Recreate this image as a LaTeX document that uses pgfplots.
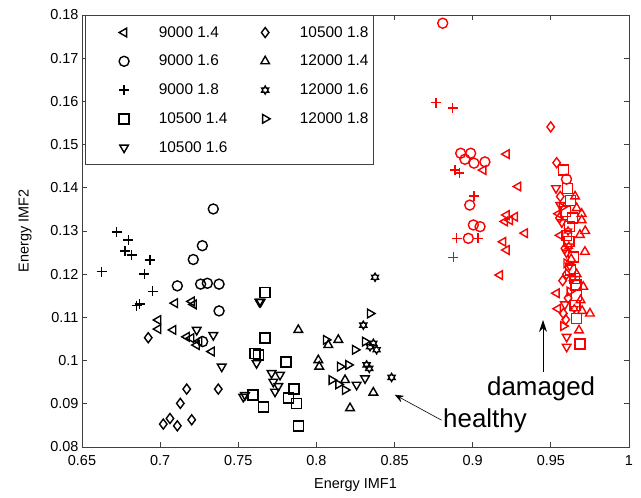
\documentclass[border=0pt]{standalone}
\usepackage{fontspec}
\setmainfont{Liberation Sans}
\usepackage{pgfplots}
\pgfplotsset{compat=1.18}
\usetikzlibrary{arrows.meta}
\pgfdeclareplotmark{hexagram}{%
  \pgfpathmoveto{\pgfpointpolar{90}{\pgfplotmarksize}}%
  \pgfpathlineto{\pgfpointpolar{120}{0.577\pgfplotmarksize}}%
  \pgfpathlineto{\pgfpointpolar{150}{\pgfplotmarksize}}%
  \pgfpathlineto{\pgfpointpolar{180}{0.577\pgfplotmarksize}}%
  \pgfpathlineto{\pgfpointpolar{210}{\pgfplotmarksize}}%
  \pgfpathlineto{\pgfpointpolar{240}{0.577\pgfplotmarksize}}%
  \pgfpathlineto{\pgfpointpolar{270}{\pgfplotmarksize}}%
  \pgfpathlineto{\pgfpointpolar{300}{0.577\pgfplotmarksize}}%
  \pgfpathlineto{\pgfpointpolar{330}{\pgfplotmarksize}}%
  \pgfpathlineto{\pgfpointpolar{0}{0.577\pgfplotmarksize}}%
  \pgfpathlineto{\pgfpointpolar{30}{\pgfplotmarksize}}%
  \pgfpathlineto{\pgfpointpolar{60}{0.577\pgfplotmarksize}}%
  \pgfpathclose
  \pgfusepathqstroke
}
\pgfplotsset{myleg/.style={legend image code/.code={\path (0bp,0bp) (67bp,0bp); \draw[mark repeat=2,mark phase=2,##1] plot coordinates {(25bp,0bp)(35bp,0bp)(45bp,0bp)};}}}
\begin{document}
\begin{tikzpicture}
\begin{axis}[
  scale only axis, width=547bp, height=432bp,
  xmin=0.65, xmax=1, ymin=0.08, ymax=0.18,
  xtick={0.65,0.7,0.75,0.8,0.85,0.9,0.95,1},
  xticklabels={0.65,0.7,0.75,0.8,0.85,0.9,0.95,1},
  ytick={0.08,0.09,0.1,0.11,0.12,0.13,0.14,0.15,0.16,0.17,0.18},
  yticklabels={0.08,0.09,0.1,0.11,0.12,0.13,0.14,0.15,0.16,0.17,0.18},
  tick align=inside, major tick length=5bp,
  axis line style={black!75, line width=0.8bp},
  every tick/.style={black!75, line width=0.8bp},
  tick label style={font=\fontsize{14.5}{17}\selectfont},
  xticklabel style={yshift=-5bp},
  label style={font=\fontsize{14.5}{17}\selectfont},
  xlabel={Energy IMF1}, ylabel={Energy IMF2},
  xlabel style={yshift=-6bp},
  ylabel style={yshift=12bp},
  mark size=5bp,
  every axis plot/.append style={line width=1.4bp},
  legend columns=2,
  legend cell align=left,
  legend style={at={(axis description cs:0.0055,1)}, anchor=north west,
    draw=black!75, line width=0.8bp, fill=white,
    font=\fontsize{15.5}{18}\selectfont,
    inner ysep=9bp, row sep=12.5bp,
    cells={inner sep=0pt}},
]
% ---- black (healthy) series, in legend order (row-major) ----
% 9000 1.4 : triangle left
\addplot[only marks, myleg, black, mark=triangle, mark options={rotate=90}] coordinates {
(0.7095,0.1133)(0.7202,0.1137)(0.7215,0.1130)(0.7084,0.1071)(0.6988,0.1094)(0.6988,0.1073)
(0.7170,0.1055)(0.7199,0.1052)(0.7234,0.1036)(0.7330,0.1021)(0.7250,0.1045)};
\addlegendentry{9000 1.4}
% 10500 1.8 : diamond
\addplot[only marks, myleg, black, mark=diamond] coordinates {
(0.6924,0.1053)(0.7170,0.0934)(0.7129,0.0901)(0.7020,0.0853)(0.7063,0.0866)(0.7110,0.0849)
(0.7202,0.0863)(0.7372,0.0934)};
\addlegendentry{10500 1.8}
% 9000 1.6 : circle
\addplot[only marks, myleg, black, mark=o] coordinates {
(0.7340,0.1351)(0.7270,0.1266)(0.7212,0.1234)(0.7110,0.1173)(0.7259,0.1177)(0.7302,0.1179)
(0.7377,0.1177)(0.7377,0.1115)(0.7272,0.1044)};
\addlegendentry{9000 1.6}
% 12000 1.4 : triangle up
\addplot[only marks, myleg, black, mark=triangle] coordinates {
(0.7884,0.1071)(0.8215,0.0890)(0.8364,0.0926)(0.8140,0.1048)(0.8076,0.1036)(0.8012,0.1001)
(0.8018,0.0986)(0.8183,0.0955)};
\addlegendentry{12000 1.4}
% 9000 1.8 : plus
\addplot[only marks, myleg, black, mark=+] coordinates {
(0.6722,0.1298)(0.6796,0.1279)(0.6775,0.1254)(0.6818,0.1244)(0.6935,0.1233)(0.6899,0.1200)
(0.6626,0.1206)(0.6952,0.1160)(0.6850,0.1127)(0.6868,0.1131)};
\addlegendentry{9000 1.8}
% 12000 1.6 : hexagram
\addplot[only marks, myleg, black, mark=hexagram, mark size=4bp] coordinates {
(0.8481,0.0961)(0.8375,0.1193)(0.8300,0.1082)(0.8364,0.1040)(0.8385,0.1025)(0.8343,0.1032)
(0.8321,0.0990)(0.8338,0.0982)};
\addlegendentry{12000 1.6}
% 10500 1.4 : square
\addplot[only marks, myleg, black, mark=square] coordinates {
(0.7596,0.0920)(0.7607,0.1017)(0.7671,0.1157)(0.7671,0.1052)(0.7628,0.1013)(0.7805,0.0997)
(0.7856,0.0934)(0.7820,0.0913)(0.7874,0.0901)(0.7592,0.0920)(0.7660,0.0893)(0.7884,0.0849)};
\addlegendentry{10500 1.4}
% 12000 1.8 : triangle right
\addplot[only marks, myleg, black, mark=triangle, mark options={rotate=-90}] coordinates {
(0.8343,0.1109)(0.8061,0.1048)(0.8247,0.1025)(0.8311,0.1044)(0.8151,0.0986)(0.8204,0.0990)
(0.8097,0.0955)(0.8183,0.0932)(0.8140,0.0945)};
\addlegendentry{12000 1.8}
% 10500 1.6 : triangle down
\addplot[only marks, myleg, black, mark=triangle, mark options={rotate=180}] coordinates {
(0.7340,0.1059)(0.7394,0.0986)(0.7234,0.1071)(0.7635,0.1136)(0.7532,0.0916)(0.7617,0.0994)
(0.7643,0.1136)(0.7713,0.0971)(0.7767,0.0967)(0.7724,0.0951)(0.7756,0.0941)(0.7735,0.0928)
(0.7543,0.0920)(0.8257,0.0944)(0.8311,0.0959)};
\addlegendentry{10500 1.6}
% ---- red (damaged) series ----
\addplot[only marks, red, mark=triangle, mark options={rotate=90}, forget plot] coordinates {
(0.9537,0.1156)(0.9217,0.1478)(0.9068,0.1441)(0.9291,0.1403)(0.9217,0.1337)(0.9270,0.1333)
(0.9206,0.1322)(0.9238,0.1325)(0.9334,0.1295)(0.9195,0.1275)(0.9217,0.1256)(0.9174,0.1198)
(0.9560,0.1290)(0.9550,0.1340)(0.9545,0.1120)};
\addplot[only marks, red, mark=diamond, forget plot] coordinates {
(0.9499,0.1541)(0.9537,0.1458)(0.9580,0.1109)(0.9555,0.1330)(0.9590,0.1260)(0.9610,0.1145)
(0.9575,0.1185)(0.9595,0.1095)(0.9560,0.1380)(0.9600,0.1200)};
\addplot[only marks, red, mark=o, forget plot] coordinates {
(0.8808,0.1781)(0.8923,0.1480)(0.8987,0.1480)(0.8950,0.1466)(0.9008,0.1457)(0.9078,0.1460)
(0.8981,0.1360)(0.9004,0.1314)(0.9047,0.1310)(0.8972,0.1283)(0.9600,0.1420)};
\addplot[only marks, red, mark=triangle, forget plot] coordinates {
(0.9697,0.1325)(0.9686,0.1291)(0.9697,0.1340)(0.9665,0.1353)(0.9718,0.1252)(0.9750,0.1109)
(0.9707,0.1171)(0.9700,0.1115)(0.9665,0.1200)(0.9655,0.1380)(0.9680,0.1070)(0.9630,0.1235)
(0.9720,0.1300)(0.9690,0.1140)};
\addplot[only marks, red, mark=+, forget plot] coordinates {
(0.8765,0.1597)(0.8872,0.1585)(0.8886,0.1441)(0.8914,0.1434)(0.9009,0.1381)(0.8897,0.1283)
(0.9035,0.1283)(0.8876,0.1239)};
\addplot[only marks, red, mark=hexagram, mark size=4bp, forget plot] coordinates {
(0.9615,0.1265)(0.9640,0.1190)(0.9610,0.1300)(0.9650,0.1120)};
\addplot[only marks, red, mark=square, forget plot] coordinates {
(0.9605,0.1399)(0.9580,0.1441)(0.9625,0.1370)(0.9595,0.1345)(0.9620,0.1310)(0.9615,0.1275)
(0.9645,0.1240)(0.9625,0.1210)(0.9660,0.1175)(0.9665,0.1150)(0.9665,0.1098)(0.9686,0.1038)
(0.9655,0.1128)(0.9600,0.1290)(0.9640,0.1330)(0.9650,0.1190)};
\addplot[only marks, red, mark=triangle, mark options={rotate=-90}, forget plot] coordinates {
(0.9570,0.1355)(0.9600,0.1225)(0.9620,0.1160)(0.9580,0.1080)};
\addplot[only marks, red, mark=triangle, mark options={rotate=180}, forget plot] coordinates {
(0.9533,0.1399)(0.9601,0.1055)(0.9601,0.1032)(0.9570,0.1320)(0.9600,0.1250)(0.9620,0.1220)
(0.9590,0.1130)(0.9560,0.1360)};
% ---- annotations ----
\node[anchor=base west, font=\fontsize{26}{30}\selectfont, inner sep=0pt] at (axis cs:0.881,0.0844) {healthy};
\node[anchor=base west, font=\fontsize{26}{30}\selectfont, inner sep=0pt] at (axis cs:0.9091,0.0920) {damaged};
\draw[line width=0.6bp, -{Stealth[length=9bp,width=7bp]}] (axis cs:0.8801,0.0862) -- (axis cs:0.8501,0.0921);
\draw[line width=0.8bp, -{Stealth[length=12bp,width=8bp]}] (axis cs:0.945,0.0974) -- (axis cs:0.945,0.1094);
\end{axis}
\path ([xshift=-82bp,yshift=-51bp]current axis.south west) rectangle ([xshift=12bp,yshift=15bp]current axis.north east);
\end{tikzpicture}
\end{document}
